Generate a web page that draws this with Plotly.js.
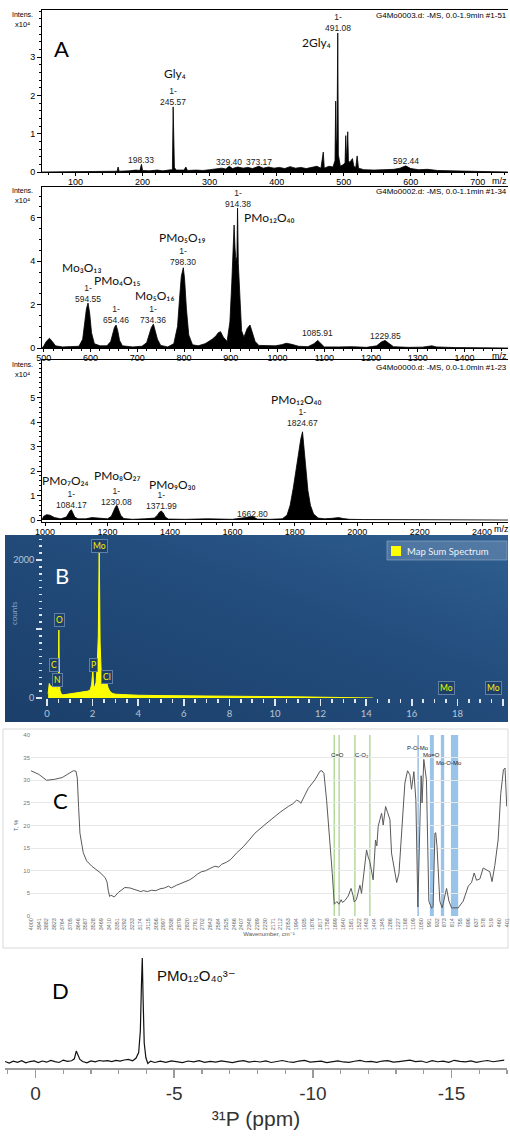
<!DOCTYPE html>
<html><head><meta charset="utf-8">
<script src="https://cdn.plot.ly/plotly-3.0.1.min.js"></script>
<style>html,body{margin:0;padding:0;background:#fff}#chart{width:510px;height:1137px}</style>
</head><body><div id="chart"></div>
<script>
// ---------- Panel A1 : ESI-MS (m/z, intensity x10^4) ----------
const msA1Mz = [50,100,130,150,160,162,163.5,165,180,190,196,198.3,200,210,222,230,243,244.5,245.6,246.3,247.5,250,262,264.5,267,280,290,300,310,318,324,329.4,334,342,350,357,364,373.2,380,388,396,404,412,420,428,436,444,452,460,466,469.5,471,478,484,487,488,489,490,491.1,492,495,500,502,503,504,506,507,509,513,515,518,520,522,530,545,560,575,584,592.4,600,612,625,640,660,690,720,745];
const msA1Int = [0,0.01,0.02,0.02,0.03,0.02,0.13,0.02,0.03,0.05,0.04,0.2,0.04,0.03,0.05,0.03,0.06,0.05,1.7,0.6,0.12,0.05,0.05,0.13,0.04,0.05,0.04,0.06,0.08,0.1,0.08,0.15,0.09,0.13,0.1,0.12,0.09,0.15,0.1,0.13,0.1,0.12,0.09,0.14,0.1,0.12,0.09,0.13,0.15,0.1,0.52,0.1,0.15,0.13,0.3,1.85,0.6,0.9,3.63,0.45,0.15,0.2,0.25,0.95,0.3,1.05,0.3,0.25,0.35,0.15,0.12,0.42,0.1,0.06,0.05,0.06,0.07,0.1,0.16,0.09,0.06,0.07,0.04,0.03,0.02,0.01,0];
const a1PeakMz = [198.33,329.40,373.17,245.57,491.08,592.44];
const a1PeakInt = [0.2,0.15,0.15,1.7,3.63,0.16];
const a1PeakText = ['198.33','329.40','373.17','1-<br>245.57','1-<br>491.08','592.44'];
const a1PeakGap = [5,5,5,5,5,5];
const a1FormulaText = ['Gly₄','2Gly₄'];
const a1FormulaMz = [249,460];
const a1FormulaY = [2.58,3.37];

// ---------- Panel A2 ----------
const msA2Mz = [496,500,505,512,518,525,540,560,575,583,588,591,594.5,598,602,608,620,635,643,648,651,654.5,658,662,668,690,710,720,726,730,734.4,738,743,750,765,778,786,790,794,798.3,801,805,810,818,830,845,860,868,873,878,884,892,898,902,905,907,909,911,913,914.4,916,919,923,928,935,941,946,952,960,975,995,1008,1019,1030,1045,1065,1078,1086,1093,1100,1130,1160,1190,1212,1222,1230,1238,1248,1280,1310,1330,1340,1380,1430,1493];
const msA2Int = [0,0.1,0.3,0.45,0.3,0.1,0.05,0.05,0.08,0.4,1.2,1.8,2.07,1.6,0.7,0.2,0.1,0.1,0.3,0.7,0.95,1.06,0.8,0.35,0.1,0.05,0.08,0.25,0.7,0.95,1.1,0.85,0.4,0.12,0.05,0.2,1.0,2.2,3.3,3.7,3.2,1.8,0.6,0.15,0.1,0.2,0.4,0.55,0.7,0.75,0.5,0.3,1.2,3.0,4.3,5.67,4.6,4.0,4.2,6.45,3.9,2.2,0.8,0.5,0.9,1.06,0.7,0.3,0.12,0.1,0.1,0.15,0.22,0.17,0.08,0.06,0.2,0.35,0.18,0.05,0.05,0.06,0.03,0.1,0.28,0.35,0.22,0.06,0.03,0.04,0.1,0.05,0.02,0.02,0];
const a2PeakMz = [594.55,654.46,734.36,798.30,914.38,1085.91,1229.85];
const a2PeakInt = [2.07,1.06,1.1,3.7,6.45,0.35,0.35];
const a2PeakText = ['1-<br>594.55','1-<br>654.46','1-<br>734.36','1-<br>798.30','1-<br>914.38','1085.91','1229.85'];
const a2PeakGap = [5,6,5,6,5,8,5];
const a2FormulaText = ['Mo₃O₁₃','PMo₄O₁₅','Mo₅O₁₆','PMo₅O₁₉','PMo₁₂O₄₀'];
const a2FormulaMz = [580,658,736,796,983];
const a2FormulaY = [3.69,3.1,2.4,5.07,6.0];

// ---------- Panel A3 ----------
const msA3Mz = [990,995,1005,1015,1030,1050,1068,1076,1080,1084.2,1089,1095,1105,1130,1150,1170,1200,1212,1220,1226,1230.1,1235,1242,1252,1280,1320,1350,1360,1366,1372,1378,1385,1395,1450,1520,1600,1645,1655,1662.8,1670,1680,1720,1760,1775,1785,1795,1805,1813,1819,1824.7,1829,1835,1842,1850,1860,1875,1895,1920,1940,1955,1975,2020,2100,2200,2300,2483];
const msA3Int = [0,0.15,0.22,0.2,0.1,0.05,0.12,0.3,0.38,0.42,0.3,0.12,0.05,0.05,0.1,0.08,0.05,0.15,0.4,0.55,0.6,0.45,0.2,0.06,0.03,0.05,0.08,0.2,0.32,0.37,0.3,0.12,0.04,0.03,0.05,0.03,0.08,0.12,0.15,0.1,0.04,0.03,0.05,0.2,0.6,1.3,2.2,2.9,3.3,3.6,3.0,2.1,1.2,0.6,0.25,0.08,0.05,0.07,0.1,0.06,0.03,0.02,0.02,0.01,0.01,0];
const a3PeakMz = [1084.17,1230.08,1371.99,1662.80,1824.67];
const a3PeakInt = [0.42,0.6,0.37,0.15,3.6];
const a3PeakText = ['1-<br>1084.17','1-<br>1230.08','1-<br>1371.99','1662.80','1-<br>1824.67'];
const a3PeakGap = [5,4,5,3,9];
const a3FormulaText = ['PMo₇O₂₄','PMo₈O₂₇','PMo₉O₃₀','PMo₁₂O₄₀'];
const a3FormulaMz = [1064,1231,1407,1804];
const a3FormulaY = [1.63,1.8,1.47,4.9];

// ---------- Panel B : EDS ----------
const edsKeV = [0.05,0.1,0.15,0.2,0.25,0.28,0.31,0.35,0.39,0.42,0.46,0.5,0.52,0.54,0.57,0.62,0.7,0.8,1.0,1.2,1.4,1.6,1.8,1.9,1.96,2.01,2.05,2.1,2.15,2.2,2.25,2.29,2.33,2.38,2.44,2.5,2.56,2.62,2.68,2.75,2.85,3.0,3.3,3.6,4.0,5.0,6.0,7.0,8.0,9.0,10,11,12,13,14,14.3];
const edsCounts = [60,210,180,160,190,230,170,150,220,140,90,300,985,300,110,60,45,50,60,70,80,95,100,120,200,400,160,170,220,450,900,2190,800,350,280,240,230,220,150,100,70,55,50,45,40,35,30,28,25,22,20,17,14,10,6,0];
const edsElem = ['Mo','O','C','N','P','Cl','Mo','Mo'];
const edsElemKeV = [2.32,0.53,0.31,0.44,2.02,2.63,17.5,19.6];
const edsElemY = [2203,1130,478,261,478,304,145,145];

// ---------- Panel C : FTIR ----------
const irWavenumber = [4000,3941,3882,3823,3764,3720,3680,3660,3650,3640,3630,3605,3580,3540,3478,3440,3425,3415,3405,3395,3385,3370,3340,3290,3252,3201,3170,3151,3120,3088,3056,3025,2990,2960,2940,2899,2849,2800,2773,2740,2710,2680,2647,2610,2580,2560,2521,2490,2446,2395,2350,2307,2231,2156,2118,2055,2020,1992,1975,1960,1904,1853,1815,1800,1785,1765,1740,1722,1707,1687,1672,1655,1645,1627,1602,1580,1565,1556,1540,1513,1501,1481,1463,1450,1438,1413,1395,1385,1375,1362,1349,1337,1319,1304,1286,1274,1253,1235,1218,1198,1173,1153,1135,1123,1105,1090,1075,1060,1050,1043,1030,1010,992,971,960,946,940,930,909,891,871,858,840,820,770,732,694,669,649,631,606,581,556,531,514,493,468,448,428,416,403];
const irT = [32.1,31.3,30.0,30.2,30.6,31.4,32.1,32.0,30.5,24.0,18.3,14.0,12.2,11.0,9.6,8.5,7.5,5.5,4.3,4.6,4.4,4.2,5.2,6.3,6.2,5.6,5.4,5.6,5.4,5.7,5.6,6.0,6.2,6.6,6.2,6.8,7.4,8.0,8.5,9.3,9.8,10.0,10.5,11.0,10.8,11.4,11.9,12.5,13.9,15.3,16.8,18.3,20.2,22.1,22.9,24.2,24.8,25.6,25.4,24.9,28.2,30.1,32.0,32.1,31.5,25.6,16.8,9.4,2.6,3.2,2.6,3.6,3.0,3.4,4.4,6.1,4.5,3.1,3.6,6.8,5.0,9.4,14.6,13.0,12.0,8.0,16.8,15.5,19.8,21.3,22.7,20.1,24.2,22.9,21.3,13.9,10.6,7.4,9.4,18.3,29.4,32.1,31.2,28.0,31.9,25.6,2.0,19.8,31.0,25.0,34.6,30.1,3.3,1.7,2.1,18.3,18.4,15.3,3.3,1.8,4.3,6.1,3.3,1.8,1.8,3.3,6.6,7.4,9.5,7.9,8.2,10.6,10.2,9.8,7.6,11.2,16.8,27.1,32.3,32.7,24.2];
const irTickVals = [4000,3941,3882,3823,3764,3705,3646,3587,3528,3469,3410,3351,3292,3233,3174,3115,3056,2997,2938,2879,2820,2761,2702,2643,2584,2525,2466,2407,2348,2289,2230,2171,2112,2053,1994,1935,1876,1817,1758,1699,1640,1581,1522,1463,1404,1345,1286,1227,1168,1109,1050,991,932,873,814,755,696,637,578,519,460,401];
const irGreenLines = [1707,1670,1551,1438];
const irBlueLine = [1073];
const irBlueBandFrom = [984,901,825];
const irBlueBandTo = [954,876,770];
const irBandText = ['C=O','C-O₂','P-O-Mo','Mo=O','Mo-O-Mo'];
const irBandX = [1682,1496,1073,971,840];
const irBandY = [35.6,35.6,37.2,35.6,33.8];

// ---------- Panel D : 31P NMR ----------
const nmrPpm = [1.1,0.95,0.8,0.65,0.5,0.35,0.2,0.05,-0.1,-0.25,-0.4,-0.55,-0.7,-0.85,-1.0,-1.15,-1.3,
 -1.4,-1.47,-1.52,-1.6,-1.7,
 -1.85,-2.0,-2.15,-2.3,-2.45,-2.6,-2.75,-2.9,-3.05,-3.2,-3.35,-3.5,
 -3.62,-3.72,-3.78,-3.82,-3.85,-3.88,-3.92,-3.98,-4.05,-4.15,
 -4.3,-4.5,-4.7,-4.9,-5.1,-5.3,-5.5,-5.7,-5.9,-6.1,-6.3,-6.5,-6.7,-6.9,-7.1,-7.3,-7.5,-7.7,-7.9,-8.1,-8.3,-8.5,-8.7,-8.9,-9.1,-9.3,-9.5,-9.7,-9.9,-10.1,-10.3,-10.5,-10.7,-10.9,-11.1,-11.3,-11.5,-11.7,-11.9,-12.1,-12.3,-12.5,-12.7,-12.9,-13.1,-13.3,-13.5,-13.7,-13.9,-14.1,-14.3,-14.5,-14.7,-14.9,-15.1,-15.3,-15.5,-15.7,-15.9,-16.1,-16.3,-16.5,-16.7,-16.9];
const nmrSignal = [0.5,-1.0,0.8,-0.3,1.2,-0.8,0.4,1.0,-0.6,0.9,-0.2,1.5,0.3,-0.5,1.8,0.6,1.2,
 3.0,10.5,8.0,2.5,0.4,
 -0.8,1.0,0.2,1.4,0.9,1.3,0.4,1.6,0.8,1.9,2.5,1.2,
 3.5,9,30,75,100,60,18,4,-1.5,0.8,
 -0.5,0.8,-0.3,1.0,0.2,-0.6,0.9,0.1,1.2,-0.4,0.6,-0.2,1.1,0.3,-0.7,0.5,1.3,-0.2,0.7,0.0,
 1.0,-0.5,0.4,1.4,0.2,-0.3,0.9,1.6,-0.1,0.5,
 0.8,-0.6,0.3,1.1,0.0,-0.4,0.7,1.5,0.2,0.6,
 -0.3,0.9,1.2,-0.2,0.4,1.0,1.8,0.3,0.9,-0.5,
 1.3,0.2,0.8,-0.4,1.6,0.5,0.1,1.1,-0.3,0.7,
 1.4,0.2,0.9,1.8];
const nmrTickVals = [0,-5,-10,-15];
const nmrTickText = ['0','-5','-10','-15'];

// ---------------------------------------------------------------
const W = 510, H = 1137;
const px = v => v / W;
const py = v => 1 - v / H;
const ARIAL = 'Liberation Sans, Arial, DejaVu Sans, sans-serif';
const CAL = 'Lato, Noto Sans, DejaVu Sans, sans-serif';

function msTrace(x, y, xa, ya) {
  return {x, y, xaxis: xa, yaxis: ya, type: 'scatter', mode: 'lines',
    line: {color: '#000', width: 0.8}, fill: 'tozeroy', fillcolor: '#000',
    showlegend: false, hoverinfo: 'skip'};
}

const traces = [
  msTrace(msA1Mz, msA1Int, 'x', 'y'),
  msTrace(msA2Mz, msA2Int, 'x2', 'y2'),
  msTrace(msA3Mz, msA3Int, 'x3', 'y3'),
  {x: edsKeV, y: edsCounts, xaxis: 'x4', yaxis: 'y4', type: 'scatter', mode: 'lines',
   line: {color: '#ffff00', width: 1}, fill: 'tozeroy', fillcolor: '#ffff00',
   name: 'Map Sum Spectrum', showlegend: false, hoverinfo: 'skip'},
  {x: irWavenumber, y: irT, xaxis: 'x5', yaxis: 'y5', type: 'scatter', mode: 'lines',
   line: {color: '#595959', width: 1}, showlegend: false, hoverinfo: 'skip'},
  {x: nmrPpm, y: nmrSignal, xaxis: 'x6', yaxis: 'y6', type: 'scatter', mode: 'lines',
   line: {color: '#111', width: 1.2}, showlegend: false, hoverinfo: 'skip'}
];

const msX = (dom, range, dtick, minor, anchor) => ({
  domain: dom, range, anchor, showline: true, linecolor: '#000', linewidth: 1, mirror: true,
  ticks: 'outside', ticklen: 3, tickcolor: '#000', tickmode: 'linear', tick0: 0, dtick, ticklabelstandoff: -2,
  minor: {ticks: 'outside', ticklen: 2, tickcolor: '#000', tickmode: 'linear', tick0: 0, dtick: minor},
  tickfont: {family: ARIAL, size: 9, color: '#000'}, showgrid: false, zeroline: false, fixedrange: true
});
const msY = (dom, range, vals, minor, anchor) => ({
  domain: dom, range, anchor, showline: true, linecolor: '#000', linewidth: 1,
  ticks: 'outside', ticklen: 4, tickcolor: '#000', tickmode: 'array', tickvals: vals, ticktext: vals.map(String),
  minor: {ticks: 'outside', ticklen: 2, tickcolor: '#000', tickmode: 'linear', tick0: 0, dtick: minor},
  tickfont: {family: ARIAL, size: 9, color: '#000'}, showgrid: false, zeroline: false, fixedrange: true
});

const annotations = [];
function paperText(text, x, y, size, opts) {
  annotations.push(Object.assign({text, xref: 'paper', yref: 'paper', x: px(x), y: py(y),
    showarrow: false, xanchor: 'center', yanchor: 'middle',
    font: {family: ARIAL, size, color: '#000'}}, opts || {}));
}
function peakLabels(mz, ints, texts, gaps, xa, ya) {
  mz.forEach((m, i) => annotations.push({text: texts[i], x: m, y: ints[i], xref: xa, yref: ya,
    showarrow: false, xanchor: 'center', yanchor: 'bottom', yshift: gaps[i] - 7.5,
    font: {family: ARIAL, size: 8.5, color: '#222'}, align: 'center'}));
}
function formulaLabels(texts, mz, ys, xa, ya) {
  texts.forEach((t, i) => annotations.push({text: t, x: mz[i], y: ys[i], xref: xa, yref: ya,
    showarrow: false, xanchor: 'center', yanchor: 'middle',
    font: {family: CAL, size: 12, color: '#111'}}));
}

// A headers
paperText('Intens.', 22, 15, 7); paperText('x10⁴', 22, 25, 7.5);
paperText('Intens.', 22, 190, 7); paperText('x10⁴', 22, 201, 7.5);
paperText('Intens.', 22, 365, 7); paperText('x10⁴', 22, 374, 7.5);
paperText('G4Mo0003.d: -MS, 0.0-1.9min #1-51', 509, 16, 8, {xanchor: 'right'});
paperText('G4Mo0002.d: -MS, 0.0-1.1min #1-34', 509, 191, 8, {xanchor: 'right'});
paperText('G4Mo0000.d: -MS, 0.0-1.0min #1-23', 509, 367, 8, {xanchor: 'right'});
paperText('m/z', 499, 181, 9); paperText('m/z', 499, 356, 9); paperText('m/z', 501, 529, 9);
paperText('A', 61, 48, 22, {font: {family: CAL, size: 22, color: '#000'}});
peakLabels(a1PeakMz, a1PeakInt, a1PeakText, a1PeakGap, 'x', 'y');
peakLabels(a2PeakMz, a2PeakInt, a2PeakText, a2PeakGap, 'x2', 'y2');
peakLabels(a3PeakMz, a3PeakInt, a3PeakText, a3PeakGap, 'x3', 'y3');
formulaLabels(a1FormulaText, a1FormulaMz, a1FormulaY, 'x', 'y');
formulaLabels(a2FormulaText, a2FormulaMz, a2FormulaY, 'x2', 'y2');
formulaLabels(a3FormulaText, a3FormulaMz, a3FormulaY, 'x3', 'y3');

// B
paperText('B', 62, 575, 22, {font: {family: CAL, size: 22, color: '#ffffff'}});
paperText('counts', 14, 613, 8, {textangle: -90, font: {family: CAL, size: 8, color: '#8ea2bc'}});
edsElem.forEach((el, i) => annotations.push({text: el, x: edsElemKeV[i], y: edsElemY[i], xref: 'x4', yref: 'y4',
  showarrow: false, xanchor: 'center', yanchor: 'middle', bgcolor: '#1e4068', bordercolor: '#5f7fa6',
  borderwidth: 1, borderpad: 1, font: {family: CAL, size: 8.5, color: '#f2f200'}}));
paperText('Map Sum Spectrum', 405, 551, 9.5, {xanchor: 'left', font: {family: CAL, size: 9.5, color: '#eef2f8'}});

// C
paperText('C', 60, 800, 22, {font: {family: CAL, size: 22, color: '#000'}});
irBandText.forEach((t, i) => annotations.push({text: t, x: irBandX[i], y: irBandY[i], xref: 'x5', yref: 'y5',
  showarrow: false, xanchor: 'center', yanchor: 'middle', font: {family: ARIAL, size: 6, color: '#222'}}));

// D
paperText('D', 60, 990, 22, {font: {family: CAL, size: 22, color: '#000'}});
annotations.push({text: 'PMo₁₂O₄₀³⁻', x: -4.32, y: 83.6, xref: 'x6', yref: 'y6',
  showarrow: false, xanchor: 'left', yanchor: 'middle', font: {family: ARIAL, size: 15, color: '#111'}});

// shapes
const shapes = [];
shapes.push({type: 'rect', xref: 'paper', yref: 'paper', x0: px(3), x1: px(508), y0: py(948), y1: py(729),
  line: {color: '#d9d9d9', width: 1}, fillcolor: 'rgba(0,0,0,0)', layer: 'below'});
irBlueBandFrom.forEach((a, i) => shapes.push({type: 'rect', xref: 'x5', yref: 'y5 domain', x0: a, x1: irBlueBandTo[i],
  y0: 0, y1: 1, fillcolor: 'rgba(120,175,225,0.75)', line: {width: 0}, layer: 'below'}));
irGreenLines.forEach(v => shapes.push({type: 'line', xref: 'x5', yref: 'y5 domain', x0: v, x1: v, y0: 0, y1: 1,
  line: {color: '#b5d99c', width: 1.5}, layer: 'below'}));
irBlueLine.forEach(v => shapes.push({type: 'line', xref: 'x5', yref: 'y5 domain', x0: v, x1: v, y0: 0, y1: 1,
  line: {color: '#7fb0e0', width: 1.2}, layer: 'below'}));
shapes.push({type: 'rect', xref: 'paper', yref: 'paper', x0: px(387), x1: px(507), y0: py(560), y1: py(541),
  fillcolor: 'rgba(150,175,205,0.35)', line: {color: 'rgba(170,190,215,0.5)', width: 1}, layer: 'above'});
shapes.push({type: 'rect', xref: 'paper', yref: 'paper', x0: px(391), x1: px(401), y0: py(556), y1: py(546),
  fillcolor: '#ffff00', line: {color: '#ffff00', width: 0}, layer: 'above'});

const svg = "<svg xmlns='http://www.w3.org/2000/svg' width='503' height='187'><defs><linearGradient id='g' x1='0' y1='1' x2='1' y2='0'><stop offset='0' stop-color='#1b3f6a'/><stop offset='0.6' stop-color='#234d7d'/><stop offset='1' stop-color='#2e5f90'/></linearGradient></defs><rect width='503' height='187' fill='url(#g)'/></svg>";

const layout = {
  width: W, height: H, margin: {l: 0, r: 0, t: 0, b: 0},
  paper_bgcolor: '#ffffff', plot_bgcolor: 'rgba(0,0,0,0)', showlegend: false,
  xaxis: msX([px(42), px(508)], [50, 745], 100, 20, 'y'),
  yaxis: msY([py(172), py(10)], [0, 4.23], [0,1,2,3], 0.2, 'x'),
  xaxis2: msX([px(42), px(508)], [496, 1493], 100, 20, 'y2'),
  yaxis2: msY([py(348), py(187)], [0, 7.42], [0,2,4,6], 0.5, 'x2'),
  xaxis3: msX([px(42), px(508)], [990, 2483], 200, 50, 'y3'),
  yaxis3: msY([py(522), py(360)], [-0.08, 6.53], [0,1,2,3,4,5], 0.2, 'x3'),
  xaxis4: {domain: [px(47), px(503)], range: [0, 20], anchor: 'y4', showline: false, showgrid: false, zeroline: false,
    ticks: 'outside', ticklen: 7, tickwidth: 1.5, tickcolor: '#dfe6ef',
    tickvals: [0,2,4,6,8,10,12,14,16,18,20], ticktext: ['0','2','4','6','8','10','12','14','16','18','keV'],
    minor: {ticks: 'outside', ticklen: 4, tickcolor: '#dfe6ef', tickmode: 'linear', tick0: 0, dtick: 0.5},
    tickfont: {family: CAL, size: 9.5, color: '#b9c6d6'}, fixedrange: true},
  yaxis4: {domain: [py(698), py(537)], range: [0, 2333], anchor: 'free', position: px(42),
    showline: false, showgrid: false, zeroline: false,
    ticks: 'outside', ticklen: 6, tickwidth: 2, tickcolor: '#dfe6ef',
    tickvals: [0, 1000, 2000], ticktext: ['0', ' ', '2000'],
    minor: {ticks: 'outside', ticklen: 3, tickwidth: 1.5, tickcolor: '#dfe6ef', tickmode: 'linear', tick0: 0, dtick: 100},
    tickfont: {family: CAL, size: 9, color: '#b9c6d6'}, fixedrange: true},
  xaxis5: {domain: [px(31), px(507)], range: [4000, 401], anchor: 'y5', showline: false, showgrid: false, zeroline: false,
    ticks: '', tickmode: 'array', tickvals: irTickVals, ticktext: irTickVals.map(String), tickangle: -90,
    tickfont: {family: ARIAL, size: 5.5, color: '#666'},
    title: {text: 'Wavenumber, cm⁻¹', font: {family: ARIAL, size: 6, color: '#555'}, standoff: 2}, fixedrange: true},
  yaxis5: {domain: [py(916), py(735)], range: [0, 40], anchor: 'x5', showline: false, zeroline: false,
    showgrid: true, gridcolor: '#e8e8e8', gridwidth: 1, tickmode: 'linear', tick0: 0, dtick: 5, ticks: '',
    tickfont: {family: ARIAL, size: 6, color: '#777'},
    title: {text: 'T, %', font: {family: ARIAL, size: 6, color: '#555'}, standoff: 4}, fixedrange: true},
  xaxis6: {domain: [px(5), px(507)], range: [1.1, -17], anchor: 'y6', showline: true, linecolor: '#9a9a9a', linewidth: 1.5,
    showgrid: false, zeroline: false, ticks: 'outside', ticklen: 8, tickwidth: 1.5, tickcolor: '#9a9a9a',
    tickvals: nmrTickVals, ticktext: nmrTickText,
    minor: {ticks: 'outside', ticklen: 4, tickwidth: 1.2, tickcolor: '#9a9a9a', tickmode: 'linear', tick0: 0, dtick: 1},
    tickfont: {family: ARIAL, size: 19, color: '#333'},
    title: {text: '³¹P (ppm)', font: {family: ARIAL, size: 21, color: '#333'}, standoff: 8}, fixedrange: true},
  yaxis6: {domain: [py(1068), py(950)], range: [-5.8, 107.7], anchor: 'x6', visible: false, fixedrange: true},
  annotations, shapes,
  images: [{source: 'data:image/svg+xml;charset=utf-8,' + encodeURIComponent(svg), xref: 'paper', yref: 'paper',
    x: px(5), y: py(535), sizex: 503 / W, sizey: 187 / H, xanchor: 'left', yanchor: 'top', sizing: 'stretch', layer: 'below'}]
};

Plotly.newPlot('chart', traces, layout, {staticPlot: true, displayModeBar: false});
</script>
</body></html>
